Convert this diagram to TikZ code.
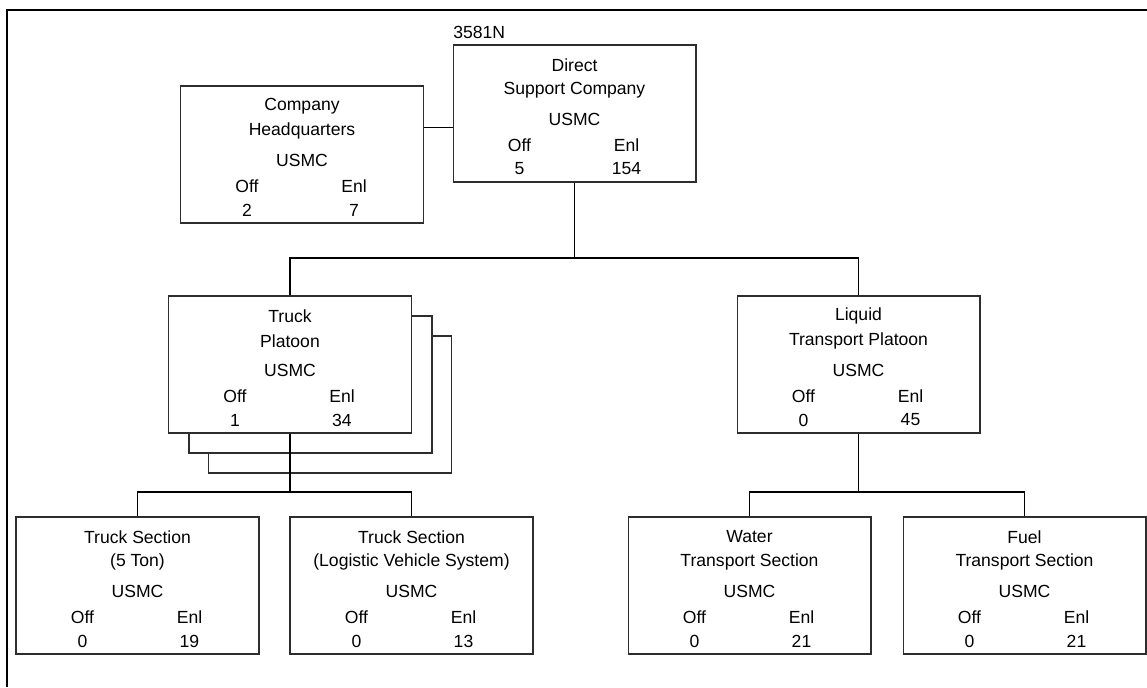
\documentclass[tikz,border=0pt]{standalone}
\usepackage{fontspec}
\setmainfont{Liberation Sans}
\usepackage{tikz}
\usetikzlibrary{calc}
\definecolor{boxLine}{RGB}{45,45,45}

% one organisational unit: name, centre x, top y, two title lines, Off, Enl
\newcommand{\unitbox}[7]{%
  \node[unit] (#1) at (#2,#3+68.5) {};
  \node[txt] (#1-t1)  at (#2,#3+20) {#4};
  \node[txt] (#1-t2)  at (#2,#3+45) {#5};
  \node[txt] (#1-svc) at (#2,#3+74) {USMC};
  \node[txt] (#1-off) at (#2-55,#3+100) {Off};
  \node[txt] (#1-enl) at (#2+52,#3+100) {Enl};
  \node[txt] (#1-no)  at (#2-55,#3+124) {#6};
  \node[txt] (#1-ne)  at (#2+52,#3+124) {#7};
}

\tikzset{
  unit/.style={draw=boxLine,fill=white,line width=0.6pt,
               minimum width=4.86cm,minimum height=2.74cm,inner sep=0pt},
  txt/.style={font=\fontsize{10}{12}\selectfont,inner sep=0pt},
  link/.style={draw=black,line width=0.6pt},
}

\begin{document}
\begin{tikzpicture}[x=0.02cm,y=-0.02cm]

    \useasboundingbox (0,0) rectangle (1147,687);

    % ── FRAME ─────────────────────────────────────────────
    \draw[line width=1.4pt] (7,687) -- (7,10) -- (1147,10);

    % ── COMPANY ───────────────────────────────────────────
    \node[txt,anchor=west] (uic) at (453,32) {3581N};
    \unitbox{dsc}{574.5}{45}{Direct}{Support Company}{5}{154}
    \unitbox{hq}{302}{86}{Company}{Headquarters}{2}{7}

    % ── TRUCK PLATOON (stacked) ───────────────────────────
    \node[unit] (tp-s2) at (330,404.5) {};
    \node[unit] (tp-s1) at (310.5,384.5) {};
    \unitbox{tp}{290}{296}{Truck}{Platoon}{1}{34}

    % ── LIQUID TRANSPORT PLATOON ──────────────────────────
    \unitbox{ltp}{858.5}{296}{Liquid}{Transport Platoon}{0}{45}

    % ── SECTIONS ──────────────────────────────────────────
    \unitbox{ts5}{137.5}{517}{Truck Section}{(5 Ton)}{0}{19}
    \unitbox{tslvs}{411.5}{517}{Truck Section}{(Logistic Vehicle System)}{0}{13}
    \unitbox{wts}{749.5}{517}{Water}{Transport Section}{0}{21}
    \unitbox{fts}{1024.5}{517}{Fuel}{Transport Section}{0}{21}

    % ── CONNECTORS ────────────────────────────────────────
    \draw[link] ([yshift=0.54cm]hq.east) coordinate (hqc) -- (hqc -| dsc.west);

    \coordinate (topbus) at (574.5,258);
    \draw[link] (dsc.south) -- (topbus);
    \draw[link] (tp.north) |- (topbus) -| (ltp.north);

    \coordinate (leftbus) at (290,492);
    \draw[link] (tp.south) -- (leftbus);
    \draw[link] (ts5.north) |- (leftbus) -| (tslvs.north);

    \coordinate (rightbus) at (858.5,492);
    \draw[link] (ltp.south) -- (rightbus);
    \draw[link] (wts.north) |- (rightbus) -| (fts.north);

\end{tikzpicture}
\end{document}
